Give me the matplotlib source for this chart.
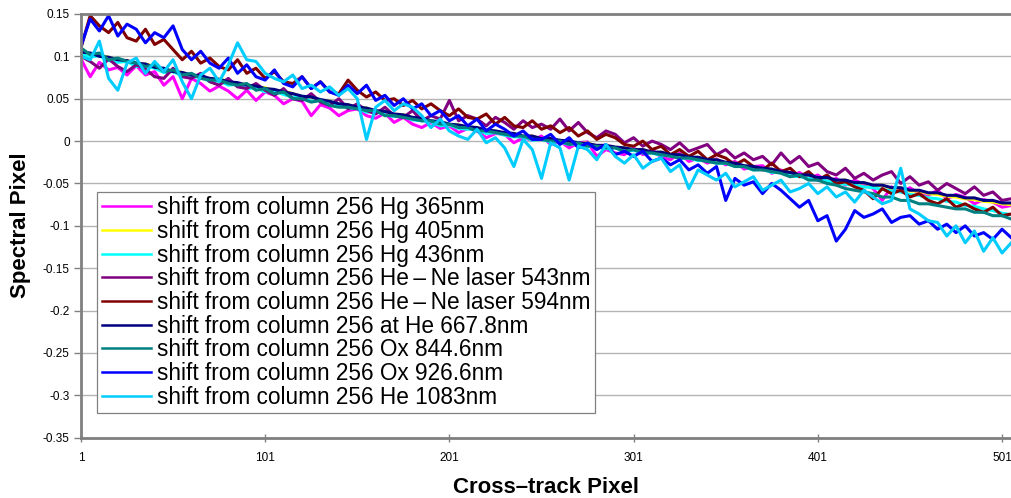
import numpy as np
import matplotlib

matplotlib.use("Agg")
import matplotlib.pyplot as plt
from matplotlib.ticker import FuncFormatter

plt.rcParams["font.family"] = ["Liberation Sans", "DejaVu Sans"]

# cross-track pixel sampled every 5 columns
PIXEL = np.arange(1, 507, 5)

# spectral shift relative to column 256, in thousandths of a pixel
HG_365 = [97, 76, 93, 84, 87, 78, 89, 78, 82, 66,
          76, 50, 74, 68, 59, 65, 59, 50, 60, 48,
          58, 54, 44, 50, 47, 30, 43, 39, 30, 36,
          38, 30, 27, 33, 22, 28, 20, 16, 22, 15,
          18, 10, 15, 12, 4, 9, 8, -2, 4, 1,
          6, -4, 0, -8, -2, -1, -18, -10, -14, -16,
          -8, -16, -10, -19, -22, -14, -24, -20, -26, -21,
          -28, -24, -33, -30, -29, -38, -34, -42, -37, -44,
          -40, -48, -44, -52, -46, -51, -56, -70, -54, -60,
          -55, -62, -64, -58, -68, -63, -66, -74, -69, -72, -78, -76]
HG_405 = [106, 102, 101, 99, 95, 95, 91, 91, 88, 84,
          83, 81, 77, 77, 73, 73, 71, 67, 67, 63,
          63, 59, 59, 56, 52, 52, 48, 47, 43, 43,
          39, 39, 35, 35, 31, 31, 27, 27, 23, 23,
          19, 19, 16, 16, 12, 12, 9, 9, 5, 6,
          2, 3, 0, 0, -3, -2, -6, -5, -8, -8,
          -11, -10, -14, -13, -17, -16, -20, -19, -23, -22,
          -26, -26, -30, -30, -33, -33, -37, -37, -41, -40,
          -44, -43, -47, -46, -50, -49, -53, -52, -56, -55,
          -59, -59, -62, -63, -65, -66, -68, -69, -71, -72, -74, -75]
HG_436 = [103, 99, 101, 95, 93, 94, 88, 89, 86, 81,
          82, 77, 75, 76, 70, 71, 66, 67, 62, 63,
          58, 59, 55, 52, 52, 47, 48, 43, 43, 39,
          39, 34, 35, 31, 29, 29, 25, 24, 23, 18,
          19, 15, 14, 14, 9, 10, 7, 5, 5, 1,
          2, -1, -1, -4, -3, -6, -6, -9, -8, -12,
          -11, -14, -14, -17, -17, -20, -20, -23, -23, -26,
          -26, -30, -30, -34, -33, -37, -37, -41, -42, -44,
          -46, -47, -49, -51, -52, -54, -55, -57, -59, -60,
          -63, -64, -67, -68, -71, -72, -76, -77, -80, -82, -85, -87]
HENE_543 = [100, 94, 86, 97, 88, 82, 90, 85, 76, 74,
            86, 76, 74, 80, 70, 66, 74, 64, 62, 68,
            60, 54, 62, 50, 48, 56, 46, 42, 50, 38,
            44, 36, 32, 40, 30, 28, 36, 24, 30, 26,
            48, 24, 30, 26, 18, 28, 22, 14, 24, 16,
            20, 14, 26, 12, 22, 10, 4, 12, 8, -2,
            4, -6, 0, -4, -10, -2, -12, -8, -4, -16,
            -10, -20, -14, -22, -18, -28, -14, -26, -18, -30,
            -26, -36, -40, -32, -44, -38, -46, -40, -36, -50,
            -42, -52, -48, -58, -50, -56, -62, -54, -64, -60, -70, -68]
HENE_594 = [110, 148, 136, 128, 140, 122, 118, 132, 114, 120,
            108, 96, 106, 92, 98, 88, 84, 96, 80, 86,
            74, 82, 70, 68, 76, 62, 70, 58, 56, 72,
            60, 52, 58, 48, 50, 42, 48, 38, 44, 36,
            30, 38, 28, 26, 32, 20, 28, 18, 16, 24,
            14, 18, 10, 16, 6, 12, 2, 8, 4, -4,
            -6, 0, -10, -6, -16, -10, -18, -12, -22, -16,
            -20, -28, -22, -30, -34, -26, -36, -32, -42, -36,
            -46, -40, -50, -48, -54, -58, -68, -56, -62, -58,
            -66, -62, -70, -74, -68, -78, -74, -80, -84, -78, -88, -86]
HE_667 = [105, 104, 100, 99, 96, 95, 92, 91, 87, 86,
          82, 81, 78, 77, 74, 73, 70, 69, 66, 65,
          62, 61, 58, 56, 53, 52, 49, 47, 44, 43,
          40, 39, 36, 35, 32, 31, 28, 27, 24, 23,
          20, 19, 17, 16, 13, 12, 10, 9, 6, 6,
          3, 3, 1, 0, -2, -3, -5, -5, -7, -8,
          -10, -10, -13, -13, -16, -16, -19, -19, -22, -22,
          -25, -26, -29, -30, -32, -33, -36, -37, -40, -40,
          -43, -43, -46, -46, -49, -49, -52, -52, -55, -55,
          -58, -58, -61, -61, -64, -64, -67, -67, -70, -70, -73, -73]
OX_844 = [110, 102, 104, 96, 98, 94, 92, 88, 90, 82,
          84, 78, 80, 74, 72, 72, 68, 66, 68, 60,
          62, 56, 58, 50, 50, 46, 48, 42, 40, 40,
          38, 36, 36, 30, 30, 28, 26, 24, 24, 20,
          20, 16, 16, 12, 12, 10, 8, 6, 6, 2,
          2, 0, 0, -4, -2, -6, -6, -8, -8, -12,
          -10, -14, -14, -16, -18, -20, -20, -22, -24, -26,
          -26, -30, -30, -34, -34, -36, -38, -42, -40, -46,
          -46, -50, -52, -56, -58, -60, -62, -66, -66, -70,
          -70, -74, -74, -76, -78, -80, -80, -84, -84, -88, -88, -92]
OX_926 = [112, 144, 130, 148, 124, 138, 132, 116, 128, 122,
          136, 108, 96, 106, 92, 86, 98, 80, 90, 76,
          72, 84, 68, 64, 76, 62, 70, 58, 54, 66,
          56, 66, 48, 54, 42, 50, 38, 44, 30, 36,
          24, 30, 18, 26, 12, 20, 14, 6, 12, 2,
          2, 8, -4, 4, -8, -2, -10, -4, -16, -12,
          -18, -12, -24, -20, -28, -22, -34, -28, -38, -30,
          -70, -44, -52, -48, -62, -50, -58, -68, -78, -70,
          -94, -88, -118, -104, -82, -90, -86, -80, -96, -90,
          -88, -98, -94, -104, -98, -108, -100, -112, -108, -116, -104, -114]
HE_1083 = [100, 96, 118, 74, 60, 92, 98, 80, 94, 82,
           96, 70, 50, 78, 86, 70, 90, 116, 96, 94,
           80, 74, 70, 78, 62, 66, 58, 64, 54, 62,
           50, 2, 40, 48, 36, 44, 40, 30, 16, 26,
           12, 6, 2, 14, -2, 4, -8, -30, 2, -10,
           -44, -2, -8, -46, -6, -10, -22, -4, -18, -26,
           -16, -32, -24, -20, -36, -28, -56, -34, -40, -46,
           -38, -54, -48, -42, -58, -52, -46, -60, -56, -50,
           -62, -54, -66, -60, -72, -58, -66, -74, -70, -32,
           -80, -86, -94, -96, -112, -100, -120, -106, -130, -114, -132, -120]

SERIES = [
    ("shift from column 256 Hg 365nm", HG_365, "#FF00FF"),
    ("shift from column 256 Hg 405nm", HG_405, "#FFFF00"),
    ("shift from column 256 Hg 436nm", HG_436, "#00FFFF"),
    ("shift from column 256 He\u2009\u2013\u2009Ne laser 543nm", HENE_543, "#800080"),
    ("shift from column 256 He\u2009\u2013\u2009Ne laser 594nm", HENE_594, "#800000"),
    ("shift from column 256 at He 667.8nm", HE_667, "#000080"),
    ("shift from column 256 Ox 844.6nm", OX_844, "#008080"),
    ("shift from column 256 Ox 926.6nm", OX_926, "#0000FF"),
    ("shift from column 256 He 1083nm", HE_1083, "#00CCFF"),
]

X_TICKS = [1, 101, 201, 301, 401, 501]
Y_TICKS = [-0.35, -0.3, -0.25, -0.2, -0.15, -0.1, -0.05, 0, 0.05, 0.1, 0.15]

fig = plt.figure(figsize=(10.12, 4.98), dpi=100)
ax = fig.add_axes([0.0800, 0.1211, 0.9200, 0.8508])

for label, values, color in SERIES:
    ax.plot(PIXEL, np.array(values) / 1000.0, color=color, linewidth=2.2, label=label)

ax.set_xlim(1, 506.4)
ax.set_ylim(-0.35, 0.15)
ax.set_xticks(X_TICKS)
ax.set_yticks(Y_TICKS)
ax.yaxis.set_major_formatter(FuncFormatter(lambda v, _: f"{round(v, 2) + 0:g}"))
ax.tick_params(axis="y", direction="out", length=5, width=1, color="#808080",
               labelsize=8.5, pad=3)
ax.tick_params(axis="x", direction="inout", length=6, width=1, color="#808080",
               labelsize=8.5, pad=7)
ax.grid(axis="y", color="#B4B4B4", linewidth=1.0)
ax.set_axisbelow(True)
for side in ("left", "bottom", "top"):
    ax.spines[side].set_color("#808080")
    ax.spines[side].set_linewidth(2.0)
ax.spines["right"].set_visible(False)

fig.text(0.5400, 0.022, "Cross\u2013track Pixel", ha="center", va="center",
         fontsize=16, fontweight="bold")
fig.text(0.0198, 0.548, "Spectral Pixel", ha="center", va="center",
         rotation=90, fontsize=16, fontweight="bold")

leg = ax.legend(loc="upper left", bbox_to_anchor=(0.0172, 0.5806), borderaxespad=0,
                fontsize=16.3, frameon=True, fancybox=False, framealpha=1,
                edgecolor="#808080", handlelength=2.2, handletextpad=0.27,
                labelspacing=0.03, borderpad=0.2)
leg.get_frame().set_linewidth(0.9)
for line in leg.get_lines():
    line.set_linewidth(1.8)

fig.savefig("out.png", dpi=100)
